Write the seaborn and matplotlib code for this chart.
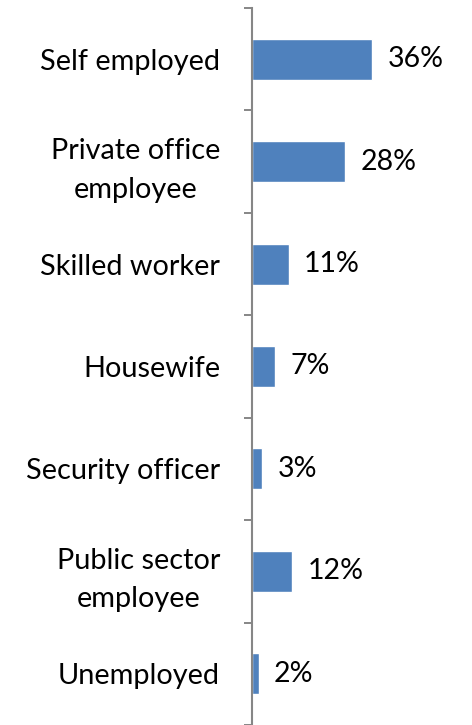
import matplotlib
matplotlib.use("Agg")
import matplotlib.pyplot as plt
import seaborn as sns
import pandas as pd
import numpy as np

categories = ["Self employed", "Private office\nemployee", "Skilled worker", "Housewife",
              "Security officer", "Public sector\nemployee", "Unemployed"]
values = [36, 28, 11, 7, 3, 12, 2]
value_labels = ["36%", "28%", "11%", "7%", "3%", "12%", "2%"]

df = pd.DataFrame({"category": categories, "value": values})

sns.set_style("white")
plt.rcParams["font.family"] = ["Lato", "DejaVu Sans"]

fig = plt.figure(figsize=(4.72, 7.25), dpi=100)
ax = fig.add_axes([252 / 472, 0.0, 1 - 252 / 472, 1 - 8 / 725])

sns.barplot(data=df, x="value", y="category", orient="h", color="#4F81BD",
            saturation=1, width=0.4, ax=ax)

ax.bar_label(ax.containers[0], labels=value_labels, padding=11, fontsize=20.5, color="black")

ax.set_xlim(0, 66)
ax.set_ylim(len(categories) - 0.5, -0.5)
ax.set_xlabel("")
ax.set_ylabel("")
ax.set_xticks([])

ax.set_yticks(range(len(categories)))
ax.set_yticklabels(categories, fontsize=20.8, color="black", multialignment="center",
                   linespacing=1.6)
ax.tick_params(axis="y", which="major", left=False, length=0, pad=23)
ax.set_yticks(np.arange(-0.5, len(categories) + 0.5, 1), minor=True)
ax.tick_params(axis="y", which="minor", left=True, length=6, width=1.4,
               color="#868686", direction="out")

for side in ["top", "right", "bottom"]:
    ax.spines[side].set_visible(False)
ax.spines["left"].set_color("#868686")
ax.spines["left"].set_linewidth(1.5)

fig.savefig("out.png", dpi=100)
